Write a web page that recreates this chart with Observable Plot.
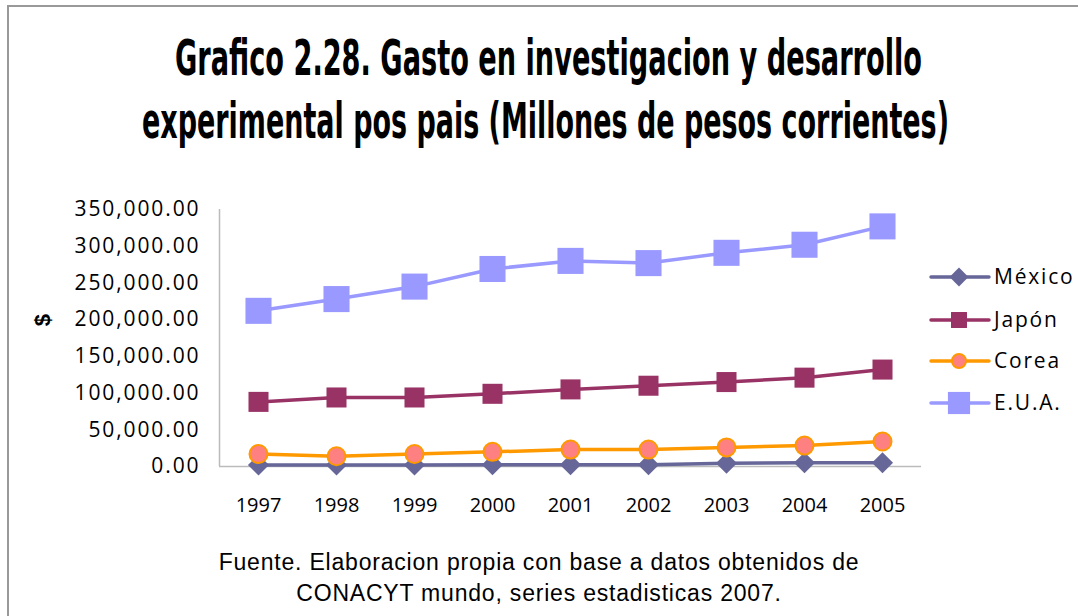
<!DOCTYPE html>
<html>
<head>
<meta charset="utf-8">
<script src="https://cdn.jsdelivr.net/npm/d3@7"></script>
<script src="https://cdn.jsdelivr.net/npm/@observablehq/plot@0.6"></script>
<style>
  html, body { margin: 0; padding: 0; background: #fff; }
  #page { position: relative; width: 1078px; height: 616px; overflow: hidden; background: #fff; }
  #frame { position: absolute; left: 7px; top: 5px; width: 1200px; height: 800px;
           border-left: 2px solid #999; border-top: 2px solid #999; }
  #title { position: absolute; left: 0; top: 0; }
  #chart { position: absolute; left: 0; top: 180px; }
  #legend { position: absolute; left: 920px; top: 250px; }
  #ylabel { position: absolute; left: 33px; top: 307px; font: bold 22px "Liberation Sans", sans-serif;
            transform: rotate(-90deg); transform-origin: center; width: 20px; text-align: center; }
  #caption { position: absolute; left: 0; width: 1078px; top: 547px; text-align: center;
             font: 23px "Liberation Sans", sans-serif; letter-spacing: 0.8px; line-height: 31px; color: #000; }
</style>
</head>
<body>
<div id="page">
  <div id="frame"></div>
  <svg id="title" width="1078" height="170"></svg>
  <div id="chart"></div>
  <div id="ylabel">$</div>
  <svg id="legend" width="158" height="180"></svg>
  <div id="caption">Fuente. Elaboracion propia con base a datos obtenidos de<br>CONACYT mundo, series estadisticas 2007.</div>
</div>
<script>
// ---- data ----
const years = [1997, 1998, 1999, 2000, 2001, 2002, 2003, 2004, 2005];
const mexico = [2000, 2000, 2000, 2500, 2500, 2500, 4500, 5000, 5000];
const japon = [88000, 94000, 94000, 99000, 105000, 110000, 115000, 121000, 132000];
const corea = [17000, 14000, 17000, 20000, 23000, 23000, 26000, 28500, 34000];
const eua = [212000, 228000, 245000, 269000, 280000, 277000, 291000, 302000, 327000];
const seriesNames = ["México", "Japón", "Corea", "E.U.A."];
const yTicks = [0, 50000, 100000, 150000, 200000, 250000, 300000, 350000];
const titleLines = ["Grafico 2.28. Gasto en investigacion y desarrollo",
                    "experimental pos pais (Millones de pesos corrientes)"];

// ---- styles per series ----
const styles = [
  {name: seriesNames[0], values: mexico, stroke: "#666699", fill: "#666699", symbol: "diamond2", r: 9.5, sw: 0},
  {name: seriesNames[1], values: japon, stroke: "#993366", fill: "#993366", symbol: "square", r: 11.3, sw: 0},
  {name: seriesNames[2], values: corea, stroke: "#FF9900", fill: "#FF8080", symbol: "circle", r: 9, sw: 2},
  {name: seriesNames[3], values: eua, stroke: "#9999FF", fill: "#9999FF", symbol: "square", r: 14.7, sw: 0}
];

// ---- title ----
const tsvg = d3.select("#title");
const tpos = [{x: 175, y: 75, len: 747}, {x: 142, y: 138, len: 807}];
const sy = 1.65;
titleLines.forEach((t, i) => {
  tsvg.append("text")
    .attr("transform", `translate(${tpos[i].x},${tpos[i].y}) scale(1,${sy})`)
    .attr("x", 0).attr("y", 0)
    .attr("textLength", tpos[i].len).attr("lengthAdjust", "spacingAndGlyphs")
    .attr("font-family", "'DejaVu Sans Condensed', 'Liberation Sans Narrow', sans-serif")
    .attr("font-weight", "bold").attr("font-size", 30).attr("fill", "#000")
    .text(t);
});

// ---- chart ----
const marks = [
  Plot.ruleX([1996.5], {stroke: "#bbbbbb", strokeWidth: 1.5}),
  Plot.ruleY([0], {x1: 1996.5, x2: 2005.5, stroke: "#bbbbbb", strokeWidth: 1.5}),
  Plot.axisX({ticks: years, tickFormat: d => String(d), tickSize: 0, tickPadding: 31,
              fontSize: 20, label: null}),
  Plot.axisY({ticks: yTicks, tickFormat: d3.format(",.2f"), tickSize: 0, tickPadding: 19,
              fontSize: 21, label: null})
];
for (const s of styles) {
  const data = years.map((y, i) => ({year: y, value: s.values[i]}));
  marks.push(Plot.line(data, {x: "year", y: "value", stroke: s.stroke, strokeWidth: 3.5}));
}
for (const s of styles) {
  const data = years.map((y, i) => ({year: y, value: s.values[i]}));
  marks.push(Plot.dot(data, {x: "year", y: "value", symbol: s.symbol, r: s.r, fill: s.fill,
                             stroke: s.sw ? s.stroke : "none", strokeWidth: s.sw}));
}
const chart = Plot.plot({
  width: 921,
  height: 340,
  marginLeft: 219,
  marginRight: 0,
  marginTop: 29,
  marginBottom: 54,
  style: {fontFamily: "'Open Sans', sans-serif", color: "#000", background: "transparent"},
  x: {type: "linear", domain: [1996.5, 2005.5]},
  y: {domain: [0, 350000]},
  marks
});
document.getElementById("chart").appendChild(chart);
d3.select(chart).selectAll('[aria-label="y-axis tick label"] text').style("letter-spacing", "1.9px");

// ---- legend ----
const lsvg = d3.select("#legend");
const rowsY = [27, 70, 111, 153];
const legendR = [8.5, 9, 7, 12.5];
styles.forEach((s, i) => {
  const g = lsvg.append("g").attr("transform", `translate(0,${rowsY[i]})`);
  g.append("line").attr("x1", 11).attr("x2", 69).attr("y1", 0).attr("y2", 0)
    .attr("stroke", s.stroke).attr("stroke-width", 3.5).attr("stroke-linecap", "round");
  const symType = {diamond2: d3.symbolDiamond2, square: d3.symbolSquare, circle: d3.symbolCircle}[s.symbol];
  g.append("path").attr("transform", "translate(39,0)")
    .attr("d", d3.symbol(symType, Math.PI * legendR[i] * legendR[i])())
    .attr("fill", s.fill).attr("stroke", s.sw ? s.stroke : "none").attr("stroke-width", s.sw);
  g.append("text").attr("x", 74).attr("y", 0).attr("dy", "0.35em")
    .attr("font-family", "'Open Sans', sans-serif").attr("font-size", 21)
    .attr("letter-spacing", "1.8px").attr("fill", "#000").text(s.name);
});
</script>
</body>
</html>
